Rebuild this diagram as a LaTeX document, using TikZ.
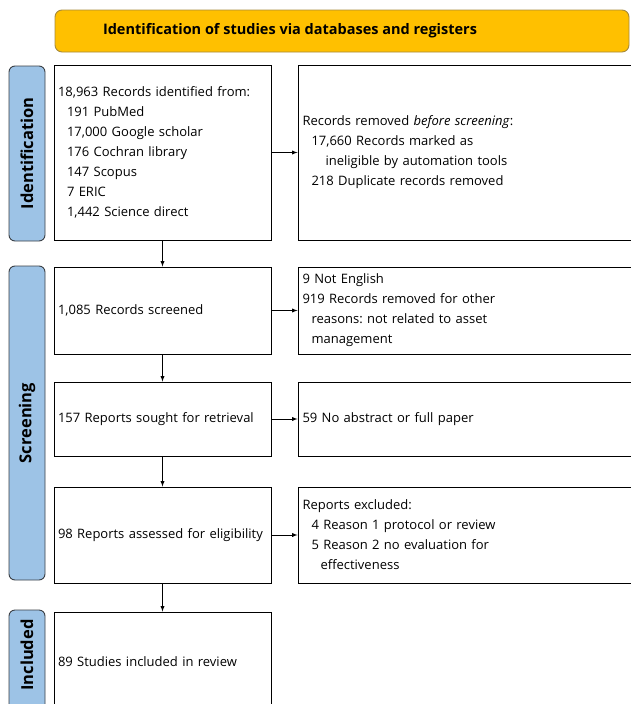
\documentclass[tikz,border=0pt]{standalone}
\usepackage{fontspec}
\setmainfont{Open Sans}
\usepackage{xcolor}
\definecolor{headgold}{HTML}{FFC000}
\definecolor{headedge}{HTML}{A68A3C}
\definecolor{sideblue}{HTML}{9DC3E6}
\definecolor{sideedge}{HTML}{3A3F45}
\frenchspacing

\begin{document}
\begin{tikzpicture}[x=1pt,y=-1pt]
        % Define styles
        \tikzset{
            box/.style={rectangle, draw, line width=0.9pt, inner sep=4pt, align=left, font=\fontsize{13}{20}\selectfont},
            leftbox/.style={box, minimum width=217pt, text width=209pt},
            rightbox/.style={box, minimum width=340pt, text width=331pt},
            phase/.style={rectangle, draw=sideedge, fill=sideblue, line width=0.9pt, rounded corners=6pt, rotate=90, minimum height=36pt, font=\fontsize{16.5}{18}\selectfont\bfseries},
            header/.style={rectangle, draw=headedge, fill=headgold, line width=0.9pt, rounded corners=7pt, minimum width=574pt, minimum height=42pt},
            arrow/.style={-latex, line width=0.9pt}
        }
        \useasboundingbox (0,0) rectangle (630,704);

        % Header
        \node[header] (head) at (342,31) {};
        \node[font=\fontsize{14.5}{16}\selectfont\bfseries] (head_text) at (290,31) {Identification of studies via databases and registers};

        % Phases
        \node[phase, minimum width=175pt] (phase_ident) at (27,153.5) {Identification};
        \node[phase, minimum width=314pt] (phase_screen) at (27,423) {Screening};
        \node[phase, minimum width=104pt] (phase_incl) at (27,662) {\hspace*{14pt}Included};

        % Identification
        \node[leftbox, minimum height=175pt] (records_node) at (162.5,152.5) {18,963 Records identified from:\\
            \hspace*{9pt}191 PubMed\\
            \hspace*{9pt}17,000 Google scholar\\
            \hspace*{9pt}176 Cochran library\\
            \hspace*{9pt}147 Scopus\\
            \hspace*{9pt}7 ERIC\\
            \hspace*{9pt}1,442 Science direct};
        \node[rightbox, minimum height=175pt] (removed_node) at (468,152.5) {Records removed \textit{before screening}:\\
            \hspace*{9pt}17,660 Records marked as\\
            \hspace*{23pt}ineligible by automation tools\\
            \hspace*{9pt}218 Duplicate records removed};

        % Screening
        \node[leftbox, minimum height=87pt] (screened_node) at (162.5,310.5) {1,085 Records screened};
        \node[rightbox, minimum height=87pt] (excluded_node) at (468,310.5) {9 Not English\\
            919 Records removed for other\\
            \hspace*{9pt}reasons: not related to asset\\
            \hspace*{9pt}management};
        \node[leftbox, minimum height=74pt] (sought_node) at (162.5,419) {157 Reports sought for retrieval};
        \node[rightbox, minimum height=74pt] (notretrieved_node) at (468,419) {59 No abstract or full paper};
        \node[leftbox, minimum height=96pt] (assessed_node) at (162.5,535) {98 Reports assessed for eligibility};
        \node[rightbox, minimum height=96pt] (reports_node) at (468,535) {Reports excluded:\\
            \hspace*{9pt}4 Reason 1 protocol or review\\
            \hspace*{9pt}5 Reason 2 no evaluation for\\
            \hspace*{18pt}effectiveness};

        % Included
        \node[leftbox, minimum height=100pt] (included_node) at (162.5,662) {89 Studies included in review};

        % Arrows
        \draw[arrow] (records_node) -- (removed_node);
        \draw[arrow] (records_node) -- (screened_node);
        \draw[arrow] (screened_node) -- (excluded_node);
        \draw[arrow] (screened_node) -- (sought_node);
        \draw[arrow] (sought_node) -- (notretrieved_node);
        \draw[arrow] (sought_node) -- (assessed_node);
        \draw[arrow] (assessed_node) -- (reports_node);
        \draw[arrow] (assessed_node) -- (included_node);
    \end{tikzpicture}
\end{document}
